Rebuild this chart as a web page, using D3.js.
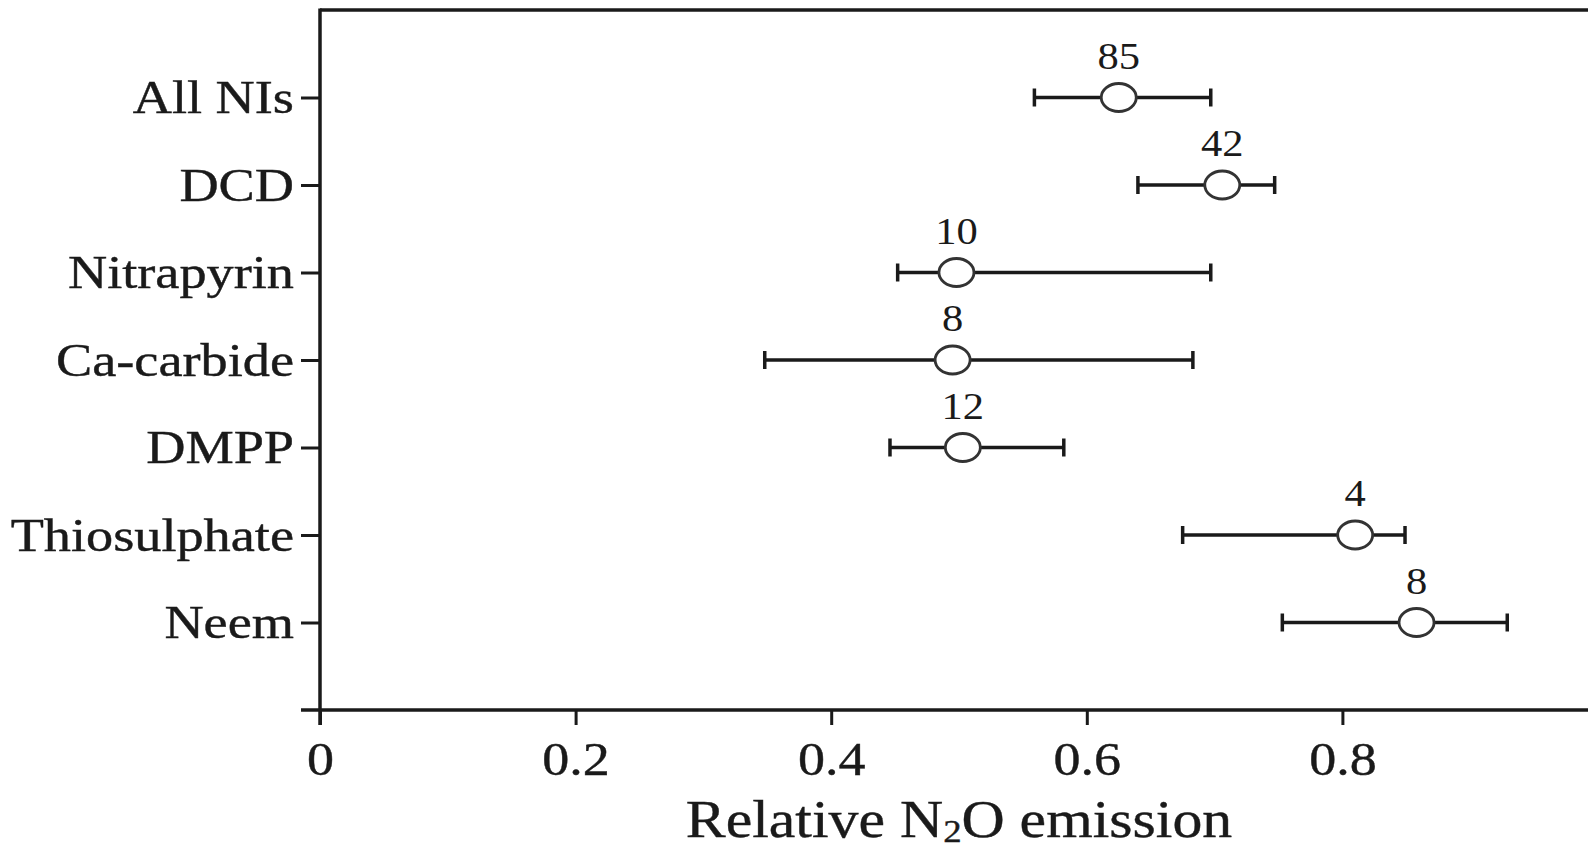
<!DOCTYPE html>
<html>
<head>
<meta charset="utf-8">
<script src="https://cdn.jsdelivr.net/npm/d3@7/dist/d3.min.js"></script>
<style>
  html, body { margin: 0; padding: 0; background: #fff; }
  svg { display: block; }
  text { font-family: "Liberation Serif", "Times New Roman", serif; fill: #1a1a1a; }
</style>
</head>
<body>
<svg id="chart" width="1588" height="851"></svg>
<script>
const categories = ["All NIs", "DCD", "Nitrapyrin", "Ca-carbide", "DMPP", "Thiosulphate", "Neem"];
const means  = [0.625, 0.706, 0.498, 0.495, 0.503, 0.810, 0.858];
const lowers = [0.559, 0.640, 0.452, 0.348, 0.446, 0.675, 0.753];
const uppers = [0.697, 0.747, 0.697, 0.683, 0.582, 0.849, 0.929];
const counts = ["85", "42", "10", "8", "12", "4", "8"];
const xTicks = [0, 0.2, 0.4, 0.6, 0.8];
const xTitle = ["Relative N", "2", "O emission"];

const W = 1588, H = 851;
const mLeft = 320, mTop = 10, mBottom = 710;
const SX = 1.15; // horizontal stretch of the glyphs in the reference
const ink = "#1a1a1a";

const svg = d3.select("#chart");
const x = d3.scaleLinear().domain([0, 1]).range([mLeft, mLeft + 1278]);
const y = d3.scalePoint().domain(categories).range([mTop, mBottom]).padding(1);

// frame: top border, left axis, bottom axis
svg.append("line").attr("x1", mLeft).attr("x2", W).attr("y1", mTop).attr("y2", mTop)
  .attr("stroke", ink).attr("stroke-width", 3.5);
svg.append("line").attr("x1", mLeft).attr("x2", mLeft).attr("y1", mTop - 1.5).attr("y2", mBottom + 15)
  .attr("stroke", ink).attr("stroke-width", 3.5);
svg.append("line").attr("x1", mLeft - 19).attr("x2", W).attr("y1", mBottom).attr("y2", mBottom)
  .attr("stroke", ink).attr("stroke-width", 3.5);

// x axis
const xAxis = svg.append("g").attr("transform", `translate(0,${mBottom})`)
  .call(d3.axisBottom(x).tickValues(xTicks).tickSize(15).tickSizeOuter(0)
    .tickFormat(d => d === 0 ? "0" : d.toFixed(1)));
xAxis.select(".domain").remove();
xAxis.selectAll(".tick line").attr("stroke", ink).attr("stroke-width", 3);
xAxis.selectAll(".tick text")
  .attr("y", 0).attr("dy", null)
  .attr("transform", `translate(0,65) scale(${SX},1)`)
  .attr("font-size", 47).attr("fill", ink)
  .attr("stroke", ink).attr("stroke-width", 0.4);

// y axis
const yAxis = svg.append("g").attr("transform", `translate(${mLeft},0)`)
  .call(d3.axisLeft(y).tickSize(19).tickSizeOuter(0));
yAxis.select(".domain").remove();
yAxis.selectAll(".tick line").attr("stroke", ink).attr("stroke-width", 3);
yAxis.selectAll(".tick text")
  .attr("x", 0).attr("dy", null).attr("y", 0)
  .attr("text-anchor", "end")
  .attr("transform", `translate(-26,15) scale(1.18,1)`)
  .attr("font-size", 46).attr("fill", ink)
  .attr("stroke", ink).attr("stroke-width", 0.4);

// axis title
const title = svg.append("text")
  .attr("text-anchor", "middle")
  .attr("transform", `translate(${x(0.5)},837) scale(${SX},1)`)
  .attr("font-size", 52).attr("fill", ink)
  .attr("stroke", ink).attr("stroke-width", 0.4);
title.append("tspan").text(xTitle[0]);
title.append("tspan").attr("font-size", 32).attr("dy", 5).text(xTitle[1]);
title.append("tspan").attr("dy", -5).text(xTitle[2]);

// error bars and points
const data = categories.map((c, i) => ({c, m: means[i], lo: lowers[i], hi: uppers[i], n: counts[i]}));
const g = svg.append("g");
const rows = g.selectAll("g.row").data(data).join("g").attr("class", "row");
rows.append("line")
  .attr("x1", d => x(d.lo)).attr("x2", d => x(d.hi))
  .attr("y1", d => y(d.c)).attr("y2", d => y(d.c))
  .attr("stroke", ink).attr("stroke-width", 3.5);
rows.append("line")
  .attr("x1", d => x(d.lo)).attr("x2", d => x(d.lo))
  .attr("y1", d => y(d.c) - 9).attr("y2", d => y(d.c) + 9)
  .attr("stroke", ink).attr("stroke-width", 3.5);
rows.append("line")
  .attr("x1", d => x(d.hi)).attr("x2", d => x(d.hi))
  .attr("y1", d => y(d.c) - 9).attr("y2", d => y(d.c) + 9)
  .attr("stroke", ink).attr("stroke-width", 3.5);
rows.append("ellipse")
  .attr("cx", d => x(d.m)).attr("cy", d => y(d.c))
  .attr("rx", 17.5).attr("ry", 14)
  .attr("fill", "#fff").attr("stroke", "#333").attr("stroke-width", 2.8);
rows.append("text")
  .attr("text-anchor", "middle")
  .attr("transform", d => `translate(${x(d.m)},${y(d.c) - 29}) scale(${SX},1)`)
  .attr("font-size", 37).attr("fill", ink)
  .text(d => d.n);
</script>
</body>
</html>
